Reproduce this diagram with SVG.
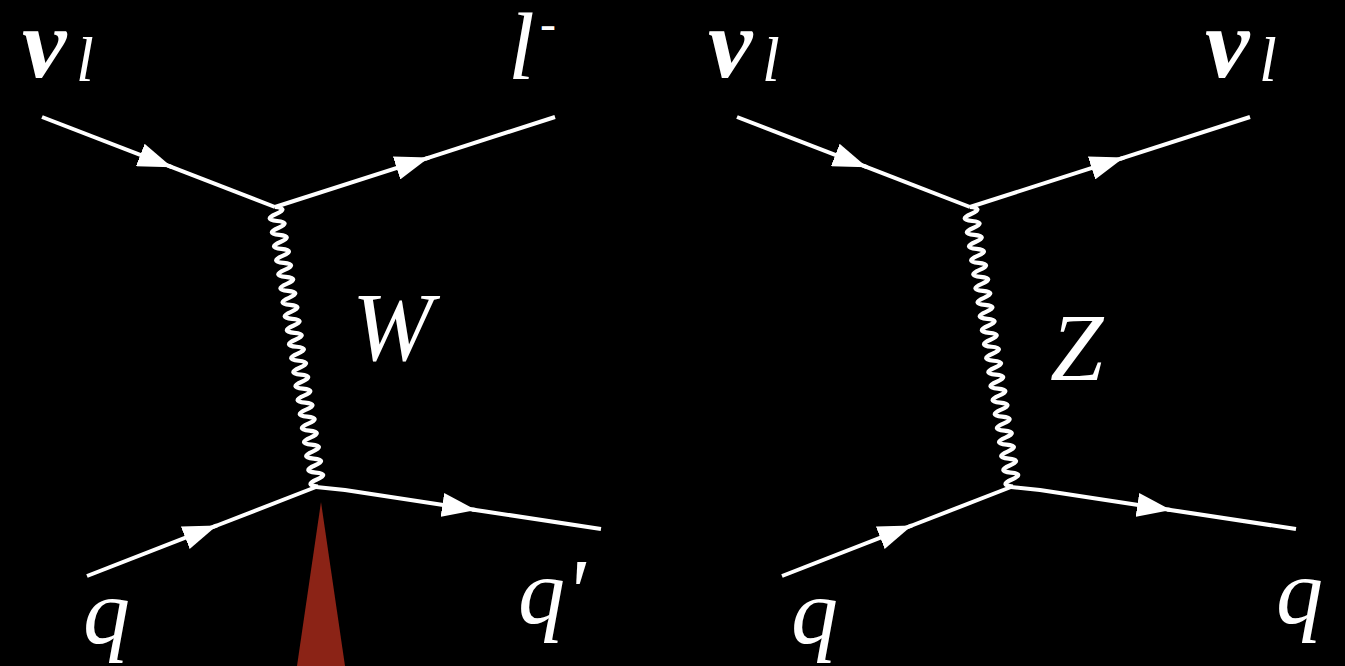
<svg xmlns="http://www.w3.org/2000/svg" xmlns:xlink="http://www.w3.org/1999/xlink" width="1345" height="666" viewBox="0 0 1345 666">
<style>
.f{fill:none;stroke:#fff;stroke-width:4;stroke-linecap:butt;stroke-linejoin:round}
.w{fill:none;stroke:#fff;stroke-width:4.2;stroke-linejoin:round}
.a{marker-end:url(#arr)}
.t{fill:#fff;font-style:italic}
.nu{fill:#fff;font-weight:bold;font-style:italic}
</style>
<defs>
<marker id="arr" viewBox="0 0 34 24" refX="34" refY="12" markerUnits="userSpaceOnUse" markerWidth="34" markerHeight="24" orient="auto">
<path d="M0,0 L34,12 L0,24 Z" fill="#fff"/>
</marker>
<path id="wave" d="M0,0 q3.54,-14 7.07,0 t7.07,0 t7.07,0 t7.07,0 t7.07,0 t7.07,0 t7.07,0 t7.07,0 t7.07,0 t7.07,0 t7.07,0 t7.07,0 t7.07,0 t7.07,0 t7.07,0 t7.07,0 t7.07,0 t7.07,0 t7.07,0 t7.07,0 t7.07,0 t7.07,0 t7.07,0 t7.07,0 t7.07,0 t7.07,0 t7.07,0 t7.07,0 t7.07,0 t7.07,0 t7.07,0 t7.07,0 t7.07,0 t7.07,0 t7.07,0 t7.07,0 t7.07,0 t7.07,0 t7.07,0 t7.07,0"/>
</defs>
<rect width="1345" height="666" fill="#000"/>
<g id="connectors">
<g id="connectors-W">
<line class="f a" x1="42" y1="117" x2="172" y2="167.2"/>
<line class="f" x1="168" y1="165.6" x2="275" y2="207"/>
<line class="f a" x1="275" y1="207" x2="429" y2="157.6"/>
<line class="f" x1="425" y1="158.8" x2="555" y2="117"/>
<line class="f a" x1="87" y1="576" x2="217" y2="525.4"/>
<line class="f" x1="213" y1="527" x2="316" y2="487"/>
<polyline class="f a" points="316,487 345,490 476,510"/>
<line class="f" x1="472" y1="509.4" x2="601" y2="529"/>
<use xlink:href="#wave" class="w" transform="translate(275,207) rotate(81.27)"/>
</g>
<g id="connectors-Z" transform="translate(695,0)">
<line class="f a" x1="42" y1="117" x2="172" y2="167.2"/>
<line class="f" x1="168" y1="165.6" x2="275" y2="207"/>
<line class="f a" x1="275" y1="207" x2="429" y2="157.6"/>
<line class="f" x1="425" y1="158.8" x2="555" y2="117"/>
<line class="f a" x1="87" y1="576" x2="217" y2="525.4"/>
<line class="f" x1="213" y1="527" x2="316" y2="487"/>
<polyline class="f a" points="316,487 345,490 476,510"/>
<line class="f" x1="472" y1="509.4" x2="601" y2="529"/>
<use xlink:href="#wave" class="w" transform="translate(275,207) rotate(81.27)"/>
</g>
</g>
<g id="pointer">
<polygon points="321,502 297,666 345,666" fill="#8B2316"/>
</g>
<g font-family="Liberation Serif, Times New Roman, serif">
<g id="label-nu-in-W"><text class="nu" x="22" y="77" font-size="100">ν</text><text class="t" x="76" y="81" font-size="64">l</text></g>
<g id="label-l-out"><text class="t" x="508" y="79" font-size="96">l</text><text class="t" x="540" y="40" font-size="48">-</text></g>
<g id="label-W"><text class="t" x="352" y="360" font-size="97">W</text></g>
<g id="label-q-in-W"><text class="t" x="83" y="643" font-size="94">q</text></g>
<g id="label-q-out-W"><text class="t" x="518" y="623" font-size="94">q'</text></g>
<g id="label-nu-in-Z"><text class="nu" x="708" y="77" font-size="100">ν</text><text class="t" x="762" y="81" font-size="64">l</text></g>
<g id="label-nu-out-Z"><text class="nu" x="1205" y="77" font-size="100">ν</text><text class="t" x="1259" y="81" font-size="64">l</text></g>
<g id="label-Z"><text class="t" x="1050" y="380" font-size="96">Z</text></g>
<g id="label-q-in-Z"><text class="t" x="791" y="643" font-size="94">q</text></g>
<g id="label-q-out-Z"><text class="t" x="1276" y="623" font-size="94">q</text></g>
</g>
</svg>
